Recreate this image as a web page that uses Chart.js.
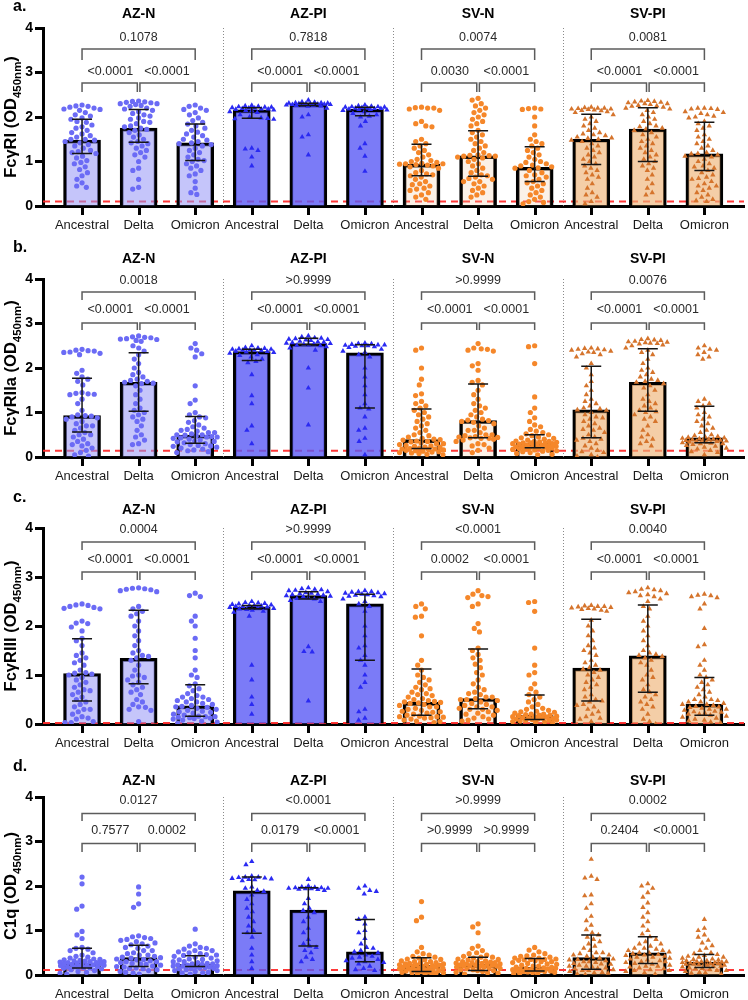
<!DOCTYPE html>
<html><head><meta charset="utf-8">
<script src="https://cdn.jsdelivr.net/npm/chart.js@4.4.0/dist/chart.umd.min.js"></script>
<style>
body{margin:0;background:#fff;width:748px;height:1000px;position:relative;overflow:hidden}
canvas{position:absolute;left:0}
</style></head><body>
<canvas id="ca" width="748" height="250" style="top:0px"></canvas>
<canvas id="cb" width="748" height="263" style="top:238px"></canvas>
<canvas id="cc" width="748" height="280" style="top:488px"></canvas>
<canvas id="cd" width="748" height="245" style="top:755px"></canvas>
<script>
// ---------- categories / labels ----------
const categories = ['Ancestral','Delta','Omicron','Ancestral','Delta','Omicron','Ancestral','Delta','Omicron','Ancestral','Delta','Omicron'];
const groups = ['AZ-N','AZ-PI','SV-N','SV-PI'];
const yTicks = [0,1,2,3,4];

// ---------- panel a: FcγRI ----------
const a_median = [1.48,1.75,1.42,2.16,2.29,2.17,0.94,1.13,0.87,1.50,1.73,1.17];
const a_q3 = [1.95,2.17,1.84,2.21,2.31,2.22,1.39,1.69,1.33,2.06,2.21,1.88];
const a_q1 = [1.18,1.43,1.02,1.97,2.26,2.03,0.68,0.67,0.55,0.93,1.00,0.80];
const a_pTop = ['0.1078','0.7818','0.0074','0.0081'];
const a_pLeft = ['<0.0001','<0.0001','0.0030','<0.0001'];
const a_pRight = ['<0.0001','<0.0001','<0.0001','<0.0001'];
const a_AZN_Anc = [2.27,2.25,2.24,2.22,2.2,2.18,2.17,2.15,2.1,2.05,2.02,1.98,1.95,1.9,1.88,1.82,1.78,1.75,1.7,1.65,1.62,1.58,1.55,1.5,1.5,1.48,1.45,1.42,1.38,1.35,1.3,1.25,1.22,1.2,1.18,1.12,1.08,1.02,0.98,0.95,0.88,0.82,0.75,0.68,0.6,0.52,0.45,0.42];
const a_AZN_Del = [2.36,2.35,2.34,2.33,2.32,2.3,2.3,2.28,2.26,2.24,2.2,2.18,2.15,2.12,2.08,2.05,2.02,1.98,1.95,1.9,1.88,1.85,1.8,1.78,1.75,1.72,1.7,1.65,1.6,1.55,1.5,1.45,1.42,1.4,1.35,1.3,1.25,1.2,1.15,1.1,1.0,0.85,0.8,0.6,0.42,0.38];
const a_AZN_Omi = [2.27,2.24,2.2,2.17,2.15,2.1,2.05,1.98,1.92,1.88,1.84,1.8,1.75,1.7,1.66,1.62,1.58,1.55,1.5,1.48,1.45,1.42,1.4,1.38,1.35,1.3,1.25,1.2,1.15,1.1,1.05,1.02,1.0,0.95,0.9,0.85,0.8,0.72,0.68,0.55,0.4,0.3,0.26];
const a_AZPI_Anc = [2.26,2.25,2.24,2.23,2.22,2.22,2.21,2.2,2.2,2.19,2.18,2.18,2.17,2.16,2.15,2.14,2.12,2.1,2.05,2.0,1.98,1.97,1.96,1.95,1.3,1.28,1.25,1.1,0.9];
const a_AZPI_Del = [2.38,2.34,2.33,2.32,2.32,2.31,2.31,2.3,2.3,2.3,2.29,2.29,2.28,2.28,2.27,2.27,2.26,2.26,2.25,2.24,2.2,2.05,2.0,1.6,1.55,1.15];
const a_AZPI_Omi = [2.27,2.25,2.24,2.23,2.23,2.22,2.22,2.21,2.2,2.2,2.19,2.19,2.18,2.17,2.17,2.16,2.15,2.12,2.08,2.05,2.02,2.0,1.9,1.8,1.4,1.3,1.12,0.78];
const a_SVN_Anc = [2.22,2.21,2.2,2.2,2.18,2.15,1.9,1.85,1.8,1.78,1.5,1.45,1.4,1.35,1.3,1.25,1.2,1.15,1.1,1.05,1.02,1.0,0.98,0.96,0.95,0.95,0.94,0.93,0.92,0.9,0.88,0.85,0.8,0.75,0.72,0.7,0.68,0.65,0.6,0.55,0.5,0.48,0.45,0.4,0.38,0.35,0.3,0.25,0.2,0.15];
const a_SVN_Del = [2.42,2.38,2.3,2.25,2.2,2.15,2.1,2.05,2.0,1.95,1.9,1.85,1.8,1.7,1.65,1.6,1.55,1.5,1.45,1.4,1.35,1.3,1.25,1.2,1.15,1.13,1.12,1.1,1.08,1.05,1.0,0.95,0.9,0.85,0.8,0.75,0.7,0.68,0.65,0.6,0.55,0.5,0.45,0.4,0.35,0.3,0.25,0.2,0.55,0.62,1.12,1.14];
const a_SVN_Omi = [2.2,2.19,2.18,2.17,2.0,1.8,1.6,1.5,1.45,1.4,1.35,1.3,1.25,1.2,1.15,1.1,1.05,1.0,0.98,0.95,0.92,0.9,0.88,0.86,0.85,0.8,0.75,0.7,0.68,0.65,0.6,0.55,0.52,0.5,0.45,0.4,0.35,0.3,0.25,0.2,0.15,0.1,0.08,0.05];
const a_SVPI_Anc = [2.22,2.21,2.2,2.2,2.19,2.18,2.18,2.17,2.16,2.15,2.14,2.12,2.1,2.05,2.0,1.95,1.9,1.85,1.8,1.75,1.7,1.65,1.6,1.58,1.55,1.52,1.5,1.48,1.45,1.4,1.35,1.3,1.25,1.2,1.15,1.1,1.05,1.0,0.95,0.9,0.85,0.8,0.75,0.7,0.65,0.6,0.5,0.4,0.3,0.2,0.1,0.05,0.25,1.62,1.53];
const a_SVPI_Del = [2.37,2.36,2.35,2.34,2.33,2.32,2.3,2.3,2.28,2.26,2.25,2.24,2.22,2.2,2.18,2.15,2.1,2.05,2.0,1.95,1.9,1.85,1.8,1.78,1.75,1.73,1.7,1.65,1.6,1.55,1.5,1.45,1.4,1.35,1.3,1.25,1.2,1.15,1.1,1.05,1.0,0.95,0.9,0.85,0.8,0.7,0.6,0.5,0.4,0.3,0.25];
const a_SVPI_Omi = [2.2,2.2,2.19,2.18,2.17,2.12,2.1,2.08,2.05,2.02,2.0,1.98,1.9,1.85,1.8,1.75,1.7,1.6,1.55,1.5,1.45,1.4,1.35,1.3,1.25,1.2,1.18,1.17,1.15,1.1,1.05,1.0,0.95,0.9,0.85,0.8,0.75,0.7,0.65,0.6,0.55,0.5,0.45,0.4,0.35,0.3,0.25,0.2,0.15,0.1,0.12,0.45,0.62,0.88,1.12];

// ---------- panel b: FcγRIIa ----------
const b_median = [0.93,1.68,0.49,2.37,2.55,2.34,0.39,0.82,0.31,1.06,1.68,0.43];
const b_q3 = [1.77,2.34,0.91,2.42,2.67,2.52,1.08,1.64,0.50,2.04,2.43,1.14];
const b_q1 = [0.56,1.03,0.31,2.17,2.52,1.10,0.19,0.43,0.21,0.43,1.03,0.32];
const b_pTop = ['0.0018','>0.9999','>0.9999','0.0076'];
const b_pLeft = ['<0.0001','<0.0001','<0.0001','<0.0001'];
const b_pRight = ['<0.0001','<0.0001','<0.0001','<0.0001'];
const b_AZN_Anc = [2.42,2.4,2.39,2.38,2.36,2.35,2.33,2.3,1.95,1.88,1.8,1.75,1.7,1.62,1.45,1.43,1.42,1.41,1.4,1.3,1.2,1.05,0.95,0.93,0.92,0.9,0.88,0.85,0.8,0.75,0.7,0.65,0.6,0.55,0.5,0.45,0.4,0.35,0.3,0.25,0.2,0.15,0.1,0.05,0.02,0.7,0.5,0.28];
const b_AZN_Del = [2.72,2.7,2.69,2.68,2.66,2.65,2.64,2.62,2.6,2.5,2.45,2.38,2.3,2.2,2.1,2.0,1.9,1.85,1.8,1.75,1.7,1.68,1.66,1.6,1.5,1.4,1.3,1.2,1.1,1.05,1.0,0.95,0.9,0.85,0.8,0.7,0.6,0.5,0.45,0.38,0.3,0.28,1.65,1.72];
const b_AZN_Omi = [2.55,2.45,2.4,2.32,2.25,1.6,1.28,1.2,1.0,0.95,0.9,0.88,0.82,0.78,0.72,0.68,0.65,0.62,0.6,0.58,0.55,0.52,0.5,0.5,0.49,0.48,0.46,0.45,0.43,0.42,0.4,0.38,0.36,0.34,0.32,0.3,0.28,0.26,0.24,0.22,0.2,0.18,0.16,0.14,0.12,0.1,0.55,0.35,0.25,0.45];
const b_AZPI_Anc = [2.5,2.46,2.45,2.44,2.43,2.42,2.42,2.41,2.4,2.4,2.39,2.38,2.37,2.36,2.35,2.3,2.25,2.2,2.15,2.12,1.85,1.38,1.2,0.7,0.6,0.3,2.33,2.28];
const b_AZPI_Del = [2.72,2.7,2.68,2.67,2.66,2.65,2.64,2.63,2.62,2.6,2.58,2.57,2.56,2.55,2.54,2.53,2.52,2.5,2.48,2.45,2.4,2.0,1.55,0.72,2.59,2.51];
const b_AZPI_Omi = [2.56,2.55,2.54,2.53,2.52,2.52,2.51,2.5,2.5,2.49,2.48,2.46,2.42,2.38,2.3,2.0,1.8,1.6,1.4,1.2,1.1,1.08,0.9,0.65,0.6,0.42,0.35,0.05,2.35,2.25];
const b_SVN_Anc = [2.45,2.4,2.0,1.75,1.62,1.42,1.38,1.25,1.2,1.15,1.1,1.05,1.0,0.95,0.9,0.85,0.8,0.75,0.7,0.65,0.6,0.55,0.5,0.48,0.45,0.42,0.4,0.39,0.38,0.36,0.34,0.32,0.3,0.28,0.26,0.25,0.24,0.22,0.2,0.19,0.18,0.17,0.16,0.15,0.14,0.13,0.12,0.11,0.1,0.09,0.08,0.06,0.05,0.35,0.3,0.22,0.18];
const b_SVN_Del = [2.55,2.45,2.43,2.42,2.4,2.38,2.1,2.05,1.95,1.72,1.68,1.62,1.5,1.4,1.3,1.2,1.15,1.1,1.05,1.0,0.95,0.9,0.85,0.83,0.82,0.8,0.78,0.75,0.7,0.65,0.6,0.55,0.5,0.48,0.46,0.44,0.43,0.42,0.4,0.38,0.35,0.3,0.28,0.25,0.2,0.15,0.1,0.6,0.45,0.42,0.5];
const b_SVN_Omi = [2.5,2.48,2.1,1.35,1.1,1.0,0.88,0.8,0.72,0.68,0.62,0.58,0.55,0.52,0.5,0.48,0.45,0.43,0.42,0.4,0.38,0.36,0.35,0.34,0.33,0.32,0.31,0.3,0.29,0.28,0.27,0.26,0.25,0.24,0.23,0.22,0.21,0.2,0.19,0.18,0.17,0.16,0.15,0.14,0.13,0.12,0.1,0.08,0.06,0.05,0.3,0.25,0.2,0.32,0.35,0.22];
const b_SVPI_Anc = [2.45,2.44,2.43,2.42,2.41,2.4,2.38,2.36,2.35,2.32,2.3,2.25,2.1,2.0,1.85,1.7,1.6,1.5,1.4,1.3,1.2,1.15,1.1,1.08,1.06,1.05,1.0,0.95,0.9,0.85,0.8,0.75,0.7,0.65,0.6,0.55,0.5,0.45,0.42,0.4,0.35,0.3,0.25,0.2,0.15,0.1,0.05,0.02,0.0,1.25,0.88,0.62,0.38,0.12];
const b_SVPI_Del = [2.66,2.64,2.63,2.62,2.6,2.59,2.58,2.57,2.56,2.55,2.54,2.52,2.5,2.45,2.4,2.3,2.2,2.1,2.0,1.95,1.9,1.85,1.8,1.75,1.7,1.68,1.65,1.6,1.5,1.4,1.3,1.25,1.2,1.15,1.1,1.05,1.0,0.95,0.9,0.85,0.8,0.7,0.6,0.5,0.45,0.4,0.35,0.3,0.25,2.35,1.72,1.55,1.02];
const b_SVPI_Omi = [2.5,2.45,2.42,2.4,2.35,2.3,2.25,2.2,1.3,1.25,1.2,1.15,1.1,1.0,0.95,0.9,0.85,0.8,0.75,0.7,0.65,0.6,0.55,0.5,0.48,0.46,0.45,0.44,0.43,0.42,0.41,0.4,0.39,0.38,0.37,0.36,0.35,0.34,0.33,0.32,0.31,0.3,0.28,0.26,0.24,0.22,0.2,0.18,0.15,0.12,0.1,0.05,0.4,0.38,0.35,0.3];

// ---------- panel c: FcγRIII ----------
const c_median = [1.03,1.34,0.37,2.39,2.62,2.45,0.44,0.52,0.18,1.14,1.39,0.40];
const c_q3 = [1.74,2.32,0.80,2.42,2.70,2.65,1.12,1.53,0.59,2.14,2.43,0.95];
const c_q1 = [0.47,0.82,0.16,2.35,2.55,1.30,0.18,0.31,0.09,0.47,0.65,0.18];
const c_pTop = ['0.0004','>0.9999','<0.0001','0.0040'];
const c_pLeft = ['<0.0001','<0.0001','0.0002','<0.0001'];
const c_pRight = ['<0.0001','<0.0001','<0.0001','<0.0001'];
const c_AZN_Anc = [2.45,2.43,2.42,2.4,2.38,2.36,2.35,2.1,2.06,2.05,1.98,1.9,1.75,1.7,1.6,1.45,1.4,1.35,1.3,1.25,1.2,1.1,1.05,1.04,1.02,1.0,0.95,0.9,0.85,0.8,0.75,0.7,0.65,0.6,0.55,0.5,0.45,0.4,0.35,0.3,0.25,0.2,0.15,0.1,0.05,0.03,0.68,0.3,0.12,0.03];
const c_AZN_Del = [2.78,2.77,2.76,2.75,2.74,2.72,2.7,2.4,2.35,2.3,2.25,2.2,2.1,2.0,1.9,1.8,1.7,1.6,1.5,1.45,1.4,1.35,1.3,1.2,1.1,1.0,0.95,0.9,0.85,0.8,0.75,0.7,0.65,0.6,0.5,0.45,0.4,0.35,0.3,0.28,0.05,1.38,0.98,0.34];
const c_AZN_Omi = [2.67,2.62,2.6,2.2,2.1,2.0,1.75,1.5,1.35,1.1,1.0,0.95,0.82,0.78,0.72,0.68,0.62,0.58,0.55,0.52,0.5,0.48,0.45,0.42,0.4,0.38,0.36,0.34,0.32,0.3,0.28,0.26,0.24,0.22,0.2,0.18,0.16,0.15,0.14,0.13,0.12,0.11,0.1,0.08,0.06,0.04,0.02,0.35,0.25,0.15,0.45,0.55];
const c_AZPI_Anc = [2.5,2.48,2.47,2.46,2.45,2.44,2.43,2.42,2.42,2.41,2.4,2.4,2.39,2.38,2.37,2.36,2.35,2.34,2.32,2.3,2.28,2.2,1.2,0.9,0.55,0.4,0.2];
const c_AZPI_Del = [2.78,2.76,2.75,2.74,2.73,2.72,2.7,2.68,2.67,2.66,2.65,2.64,2.63,2.62,2.6,2.58,2.56,2.55,2.52,2.5,1.58,1.48,1.47,0.47,2.61];
const c_AZPI_Omi = [2.72,2.7,2.7,2.69,2.68,2.67,2.66,2.65,2.64,2.63,2.62,2.61,2.6,2.55,2.45,2.3,2.0,1.8,1.6,1.55,1.4,1.3,1.2,1.0,0.85,0.75,0.3,0.25,0.12,0.08,2.5,2.4];
const c_SVN_Anc = [2.45,2.4,2.35,2.2,2.18,1.8,1.3,1.2,1.1,1.0,0.95,0.9,0.85,0.8,0.75,0.7,0.65,0.6,0.58,0.55,0.52,0.5,0.48,0.46,0.44,0.43,0.42,0.4,0.38,0.35,0.32,0.3,0.28,0.26,0.24,0.22,0.2,0.18,0.16,0.15,0.14,0.13,0.12,0.1,0.08,0.06,0.05,0.03,0.45,0.35,0.25,0.15,0.62,0.72];
const c_SVN_Del = [2.72,2.65,2.62,2.6,2.58,2.45,2.4,2.05,1.95,1.88,1.55,1.5,1.42,1.35,1.3,1.22,1.15,1.05,1.0,0.9,0.82,0.75,0.7,0.65,0.6,0.55,0.52,0.5,0.48,0.45,0.42,0.4,0.38,0.35,0.32,0.3,0.28,0.25,0.22,0.2,0.18,0.15,0.12,0.1,0.08,0.06,0.55,0.5,0.35,0.3,0.62];
const c_SVN_Omi = [2.5,2.48,2.3,1.55,1.2,1.05,1.0,0.82,0.72,0.65,0.6,0.55,0.5,0.45,0.4,0.35,0.32,0.3,0.28,0.26,0.24,0.22,0.2,0.19,0.18,0.17,0.16,0.15,0.14,0.13,0.12,0.11,0.1,0.09,0.08,0.07,0.06,0.05,0.04,0.03,0.02,0.2,0.15,0.12,0.1,0.08,0.18,0.25];
const c_SVPI_Anc = [2.42,2.41,2.4,2.4,2.39,2.38,2.37,2.36,2.35,2.34,2.32,2.3,2.12,2.0,1.9,1.8,1.7,1.6,1.5,1.45,1.4,1.3,1.2,1.15,1.12,1.1,1.0,0.95,0.9,0.85,0.8,0.7,0.6,0.5,0.47,0.45,0.4,0.35,0.3,0.25,0.2,0.15,0.1,0.05,1.25,1.05,0.75,0.55,0.38,0.12,1.55];
const c_SVPI_Del = [2.78,2.75,2.74,2.72,2.7,2.68,2.66,2.64,2.62,2.6,2.55,2.5,2.4,2.35,2.2,2.1,2.0,1.9,1.8,1.7,1.6,1.5,1.45,1.4,1.38,1.35,1.3,1.2,1.1,1.0,0.9,0.8,0.7,0.65,0.6,0.5,0.45,0.4,0.3,0.2,0.1,0.05,0.0,1.42,1.25,0.95,0.55,0.35];
const c_SVPI_Omi = [2.65,2.63,2.62,2.6,2.58,2.45,2.35,1.95,1.62,1.58,1.3,1.2,1.1,1.0,0.95,0.9,0.85,0.8,0.75,0.7,0.65,0.6,0.55,0.5,0.48,0.45,0.42,0.4,0.38,0.36,0.34,0.32,0.3,0.28,0.26,0.24,0.22,0.2,0.18,0.16,0.14,0.12,0.1,0.08,0.06,0.04,0.02,0.4,0.35,0.3,0.25,0.2,0.5,0.45];

// ---------- panel d: C1q ----------
const d_median = [0.26,0.39,0.24,1.89,1.46,0.52,0.22,0.24,0.17,0.39,0.50,0.29];
const d_q3 = [0.60,0.67,0.43,2.20,1.96,1.25,0.39,0.40,0.37,0.90,0.86,0.46];
const d_q1 = [0.16,0.19,0.19,0.94,0.65,0.30,0.08,0.10,0.09,0.13,0.26,0.17];
const d_pTop = ['0.0127','<0.0001','>0.9999','0.0002'];
const d_pLeft = ['0.7577','0.0179','>0.9999','0.2404'];
const d_pRight = ['0.0002','<0.0001','>0.9999','<0.0001'];
const d_AZN_Anc = [2.2,2.05,1.55,1.48,0.98,0.9,0.82,0.62,0.6,0.58,0.55,0.5,0.45,0.42,0.4,0.38,0.36,0.34,0.33,0.32,0.31,0.3,0.29,0.28,0.27,0.26,0.25,0.24,0.23,0.22,0.21,0.2,0.19,0.18,0.17,0.16,0.15,0.14,0.12,0.1,0.08,0.06,0.04,0.02,0.3,0.25,0.22,0.18,0.35,0.28];
const d_AZN_Del = [1.98,1.82,1.6,1.52,0.88,0.86,0.84,0.82,0.8,0.78,0.75,0.72,0.7,0.68,0.65,0.62,0.6,0.55,0.5,0.48,0.45,0.42,0.4,0.39,0.38,0.36,0.34,0.32,0.3,0.28,0.26,0.24,0.22,0.2,0.19,0.18,0.16,0.14,0.12,0.1,0.08,0.06,0.04,0.02,0.45,0.35,0.25,0.15,0.55,0.3];
const d_AZN_Omi = [1.03,0.7,0.65,0.62,0.6,0.58,0.55,0.52,0.5,0.48,0.46,0.44,0.42,0.4,0.38,0.36,0.34,0.32,0.3,0.28,0.26,0.25,0.24,0.23,0.22,0.21,0.2,0.19,0.18,0.17,0.16,0.15,0.14,0.12,0.1,0.08,0.06,0.04,0.02,0.3,0.25,0.2,0.35,0.45,0.55,0.15,0.1,0.05];
const d_AZPI_Anc = [2.55,2.48,2.22,2.2,2.2,2.19,2.18,2.17,2.16,2.15,2.14,2.12,1.98,1.95,1.9,1.88,1.8,1.6,1.42,1.3,1.2,1.1,1.0,0.95,0.85,0.6,0.45,0.3,0.15,1.7,1.5];
const d_AZPI_Del = [2.15,2.0,1.98,1.97,1.96,1.96,1.95,1.95,1.94,1.94,1.93,1.92,1.9,1.72,1.6,1.45,1.4,1.3,1.2,1.05,0.95,0.8,0.7,0.65,0.62,0.55,0.5,0.4,0.35,0.3,1.5];
const d_AZPI_Omi = [2.0,1.95,1.9,1.88,1.82,1.3,1.25,1.15,1.0,0.95,0.82,0.7,0.6,0.55,0.52,0.5,0.45,0.42,0.38,0.35,0.32,0.3,0.28,0.25,0.2,0.15,0.12,0.1,0.62,0.4];
const d_SVN_Anc = [1.65,1.3,1.22,0.62,0.52,0.48,0.45,0.42,0.4,0.38,0.36,0.34,0.32,0.3,0.28,0.26,0.25,0.24,0.23,0.22,0.21,0.2,0.19,0.18,0.17,0.16,0.15,0.14,0.13,0.12,0.11,0.1,0.09,0.08,0.07,0.06,0.05,0.04,0.03,0.02,0.01,0.3,0.25,0.2,0.15,0.1,0.05,0.22,0.35,0.28];
const d_SVN_Del = [1.15,1.08,0.95,0.65,0.6,0.55,0.5,0.48,0.45,0.42,0.4,0.38,0.36,0.34,0.32,0.3,0.29,0.28,0.27,0.26,0.25,0.24,0.23,0.22,0.21,0.2,0.19,0.18,0.16,0.14,0.12,0.1,0.08,0.06,0.04,0.02,0.3,0.25,0.2,0.15,0.1,0.35,0.4,0.05,0.28,0.22,0.18,0.12];
const d_SVN_Omi = [0.62,0.56,0.52,0.48,0.45,0.43,0.42,0.4,0.38,0.36,0.35,0.34,0.33,0.32,0.3,0.28,0.26,0.24,0.22,0.2,0.18,0.17,0.16,0.15,0.14,0.13,0.12,0.11,0.1,0.09,0.08,0.07,0.06,0.05,0.04,0.03,0.02,0.3,0.25,0.2,0.15,0.1,0.38,0.35,0.12,0.08];
const d_SVPI_Anc = [2.6,2.22,2.18,2.15,1.8,1.78,1.6,1.5,1.32,1.22,1.12,1.02,0.95,0.9,0.85,0.8,0.75,0.7,0.65,0.6,0.55,0.5,0.48,0.45,0.42,0.4,0.38,0.36,0.34,0.32,0.3,0.28,0.26,0.24,0.22,0.2,0.18,0.16,0.14,0.12,0.1,0.08,0.06,0.04,0.02,0.01,0.3,0.25,0.2,0.15,0.1,0.45,0.5,0.35,0.05];
const d_SVPI_Del = [2.05,2.0,1.95,1.85,1.75,1.62,1.52,1.4,1.3,1.2,1.1,1.0,0.92,0.86,0.8,0.75,0.7,0.65,0.6,0.58,0.55,0.52,0.5,0.48,0.46,0.44,0.42,0.4,0.38,0.36,0.34,0.32,0.3,0.28,0.26,0.24,0.22,0.2,0.18,0.16,0.14,0.12,0.1,0.08,0.05,0.02,0.6,0.5,0.4,0.3,0.7,0.55,0.45,0.2,0.1];
const d_SVPI_Omi = [1.25,1.05,1.0,0.9,0.85,0.78,0.72,0.66,0.6,0.55,0.5,0.48,0.46,0.44,0.42,0.4,0.38,0.36,0.34,0.32,0.3,0.29,0.28,0.27,0.26,0.25,0.24,0.23,0.22,0.2,0.18,0.16,0.14,0.12,0.1,0.08,0.06,0.04,0.02,0.35,0.3,0.28,0.25,0.2,0.15,0.1,0.05,0.4,0.32,0.22,0.3,0.26];

// ---------- styling ----------
const FONT = "'Liberation Sans', Arial, Helvetica, sans-serif";
Chart.defaults.font.family = FONT;
const groupStyle = [
  {bar:'rgba(150,150,245,0.55)', pt:'#6b6bf5', shape:'circle', r:2.6, d:6.2},
  {bar:'rgba(90,90,245,0.80)', pt:'#2a2af2', shape:'triangle', r:3.1, d:6.6},
  {bar:'rgba(240,200,160,0.25)', pt:'#f5872a', shape:'circle', r:2.6, d:6.2},
  {bar:'rgba(238,180,120,0.65)', pt:'#d5742c', shape:'triangle', r:3.1, d:6.6}
];
const X_PPU = 56.67;

function swarm(vals, ppuY, d, maxOff){
  const order = vals.map((v,i)=>i).sort((a,b)=>vals[b]-vals[a] || a-b);
  const placed=[]; const offs=new Array(vals.length);
  for(const i of order){
    const y=vals[i]*ppuY;
    const near=placed.filter(p=>Math.abs(p.y-y)<d);
    const cands=[0];
    near.forEach(p=>{const w=Math.sqrt(d*d-(p.y-y)*(p.y-y)); cands.push(p.x+w,p.x-w);});
    const ok=cands.filter(c=>Math.abs(c)<=maxOff && near.every(p=>Math.hypot(p.x-c,p.y-y)>=d-1e-6))
      .sort((a,b)=>Math.abs(a)-Math.abs(b) || a-b);
    let x;
    if(ok.length){x=ok[0];}
    else{let best=0,bs=-1;for(let c=-maxOff;c<=maxOff;c+=0.5){const m=Math.min(...near.map(p=>Math.hypot(p.x-c,p.y-y)));if(m>bs){bs=m;best=c;}}x=best;}
    placed.push({x,y}); offs[i]=x/X_PPU;
  }
  return offs;
}

const panels = [
  {id:'ca', letter:'a.', ytitle:['FcγRI (OD','450nm',')'], med:a_median, q1:a_q1, q3:a_q3,
   pts:[a_AZN_Anc,a_AZN_Del,a_AZN_Omi,a_AZPI_Anc,a_AZPI_Del,a_AZPI_Omi,a_SVN_Anc,a_SVN_Del,a_SVN_Omi,a_SVPI_Anc,a_SVPI_Del,a_SVPI_Omi],
   pTop:a_pTop, pLeft:a_pLeft, pRight:a_pRight, cutoff:0.10, padTop:28, xh:44, ppuY:44.5, titleOff:14, letterOff:21,
   br:[3.775,3.528,3.281,3.011,2.764,2.562]},
  {id:'cb', letter:'b.', ytitle:['FcγRIIa (OD','450nm',')'], med:b_median, q1:b_q1, q3:b_q3,
   pts:[b_AZN_Anc,b_AZN_Del,b_AZN_Omi,b_AZPI_Anc,b_AZPI_Del,b_AZPI_Omi,b_SVN_Anc,b_SVN_Del,b_SVN_Omi,b_SVPI_Anc,b_SVPI_Del,b_SVPI_Omi],
   pTop:b_pTop, pLeft:b_pLeft, pRight:b_pRight, cutoff:0.14, padTop:41, xh:44, ppuY:44.5, titleOff:20, letterOff:31,
   br:[3.955,3.708,3.528,3.303,3.011,2.854]},
  {id:'cc', letter:'c.', ytitle:['FcγRIII (OD','450nm',')'], med:c_median, q1:c_q1, q3:c_q3,
   pts:[c_AZN_Anc,c_AZN_Del,c_AZN_Omi,c_AZPI_Anc,c_AZPI_Del,c_AZPI_Omi,c_SVN_Anc,c_SVN_Del,c_SVN_Omi,c_SVPI_Anc,c_SVPI_Del,c_SVPI_Omi],
   pTop:c_pTop, pLeft:c_pLeft, pRight:c_pRight, cutoff:0.02, padTop:40, xh:44, ppuY:49, titleOff:18, letterOff:30,
   br:[3.959,3.714,3.551,3.347,3.102,2.939]},
  {id:'cd', letter:'d.', ytitle:['C1q (OD','450nm',')'], med:d_median, q1:d_q1, q3:d_q3,
   pts:[d_AZN_Anc,d_AZN_Del,d_AZN_Omi,d_AZPI_Anc,d_AZPI_Del,d_AZPI_Omi,d_SVN_Anc,d_SVN_Del,d_SVN_Omi,d_SVPI_Anc,d_SVPI_Del,d_SVPI_Omi],
   pTop:d_pTop, pLeft:d_pLeft, pRight:d_pRight, cutoff:0.11, padTop:42, xh:25, ppuY:44.5, titleOff:16, letterOff:30,
   br:[3.91,3.627,3.461,3.236,2.953,2.764]}
];

function decor(P){
  return {
    id:'decor_'+P.id,
    beforeDatasetsDraw(chart){
      const {ctx, chartArea:ca, scales:{x,y}} = chart;
      ctx.save();
      ctx.strokeStyle='#8a8a8a'; ctx.lineWidth=1; ctx.setLineDash([1,2]);
      [2.5,5.5,8.5].forEach(v=>{const px=Math.round(x.getPixelForValue(v))+0.5;
        ctx.beginPath(); ctx.moveTo(px,y.getPixelForValue(4)); ctx.lineTo(px,y.getPixelForValue(0)); ctx.stroke();});
      ctx.strokeStyle='rgba(255,45,45,0.95)'; ctx.lineWidth=2; ctx.setLineDash([7,5]);
      const cy=y.getPixelForValue(P.cutoff);
      ctx.beginPath(); ctx.moveTo(ca.left,cy); ctx.lineTo(ca.right,cy); ctx.stroke();
      ctx.restore();
    },
    afterDatasetsDraw(chart){
      const {ctx, chartArea:ca, scales:{x,y}} = chart;
      ctx.save(); ctx.strokeStyle='#151515'; ctx.lineWidth=1.5;
      for(let i=0;i<12;i++){
        const px=x.getPixelForValue(i), y1=y.getPixelForValue(P.q1[i]), y3=y.getPixelForValue(P.q3[i]);
        ctx.beginPath(); ctx.moveTo(px,y1); ctx.lineTo(px,y3);
        ctx.moveTo(px-10,y1); ctx.lineTo(px+10,y1); ctx.moveTo(px-10,y3); ctx.lineTo(px+10,y3); ctx.stroke();
      }
      ctx.strokeStyle='#000'; ctx.lineWidth=3;
      for(let i=0;i<12;i++){
        const px=Math.round(x.getPixelForValue(i))+0.5;
        ctx.beginPath(); ctx.moveTo(px,ca.bottom); ctx.lineTo(px,ca.bottom+9); ctx.stroke();
      }
      ctx.restore();
    },
    afterDraw(chart){
      const {ctx, chartArea:ca, scales:{x,y}} = chart;
      ctx.save();
      ctx.fillStyle='#000'; ctx.font='bold 16px '+FONT; ctx.textBaseline='middle'; ctx.textAlign='left';
      ctx.fillText(P.letter, 13, ca.top-P.letterOff);
      ctx.font='bold 14px '+FONT; ctx.textAlign='center';
      groups.forEach((g,k)=>ctx.fillText(g, x.getPixelForValue(k*3+1), ca.top-P.titleOff));
      const [tT,tB,tL,lT,lB,lL]=P.br.map(v=>y.getPixelForValue(v));
      ctx.strokeStyle='#5c5c5c'; ctx.lineWidth=1.5;
      ctx.font='12.5px '+FONT; ctx.fillStyle='#2a2a2a';
      groups.forEach((g,k)=>{
        const x0=x.getPixelForValue(k*3), x1=x.getPixelForValue(k*3+1), x2=x.getPixelForValue(k*3+2);
        ctx.beginPath();
        ctx.moveTo(x0,tL); ctx.lineTo(x0,tB); ctx.lineTo(x2,tB); ctx.lineTo(x2,tL);
        ctx.moveTo(x0,lL); ctx.lineTo(x0,lB); ctx.lineTo(x1-1.3,lB); ctx.lineTo(x1-1.3,lL);
        ctx.moveTo(x1+1.3,lL); ctx.lineTo(x1+1.3,lB); ctx.lineTo(x2,lB); ctx.lineTo(x2,lL);
        ctx.stroke();
        ctx.fillText(P.pTop[k], x1, tT);
        ctx.fillText(P.pLeft[k], (x0+x1)/2, lT);
        ctx.fillText(P.pRight[k], (x1+x2)/2, lT);
      });
      const midY=(ca.top+ca.bottom)/2;
      ctx.translate(16, midY); ctx.rotate(-Math.PI/2);
      ctx.fillStyle='#000'; ctx.textBaseline='alphabetic'; ctx.textAlign='left';
      const f1='bold 16.5px '+FONT, f2='bold 11.5px '+FONT;
      ctx.font=f1; const w1=ctx.measureText(P.ytitle[0]).width, w3=ctx.measureText(P.ytitle[2]).width;
      ctx.font=f2; const w2=ctx.measureText(P.ytitle[1]).width;
      let sx=-(w1+w2+w3)/2;
      ctx.font=f1; ctx.fillText(P.ytitle[0], sx, 0); sx+=w1;
      ctx.font=f2; ctx.fillText(P.ytitle[1], sx, 4.5); sx+=w2;
      ctx.font=f1; ctx.fillText(P.ytitle[2], sx, 0);
      ctx.restore();
    }
  };
}

panels.forEach(P=>{
  const barData = P.med.map((m,i)=>({x:i, y:m}));
  const barColors = P.med.map((m,i)=>groupStyle[Math.floor(i/3)].bar);
  const datasets = [{type:'bar', data:barData, backgroundColor:barColors, borderColor:'#000', borderWidth:3,
    barThickness:37, order:5}];
  groups.forEach((g,k)=>{
    const st=groupStyle[k]; const pts=[];
    for(let j=0;j<3;j++){
      const idx=k*3+j, vals=P.pts[idx];
      const offs=swarm(vals, P.ppuY, st.d, 22);
      vals.forEach((v,n)=>pts.push({x:idx+offs[n], y:v}));
    }
    datasets.push({type:'scatter', data:pts, pointStyle:st.shape, pointRadius:st.r, pointBackgroundColor:st.pt,
      pointBorderWidth:0, showLine:false, order:1});
  });
  new Chart(document.getElementById(P.id), {
    type:'bar',
    data:{datasets},
    options:{
      responsive:false, animation:false, events:[],
      layout:{padding:{top:P.padTop, right:3, left:0, bottom:0}},
      plugins:{legend:{display:false}, tooltip:{enabled:false}},
      scales:{
        x:{type:'linear', min:-0.69, max:11.7, offset:false,
           afterBuildTicks:s=>{s.ticks=categories.map((c,i)=>({value:i}));},
           afterFit:s=>{s.height=P.xh;},
           ticks:{autoSkip:false, maxRotation:0, minRotation:0, padding:4, color:'#1a1a1a', font:{size:13},
             callback:(v)=>categories[v]},
           grid:{display:false, offset:false},
           border:{display:true, width:3, color:'#000'}},
        y:{min:0, max:4,
           afterBuildTicks:s=>{s.ticks=yTicks.map(v=>({value:v}));},
           afterFit:s=>{s.width=43;},
           ticks:{padding:2, color:'#000', font:{size:14, weight:'bold'}},
           grid:{display:true, offset:false, drawOnChartArea:false, drawTicks:true, tickLength:8, tickWidth:3, tickColor:'#000', color:'#000'},
           border:{display:true, width:3, color:'#000'}}
      }
    },
    plugins:[decor(P)]
  });
});
</script>
</body></html>
